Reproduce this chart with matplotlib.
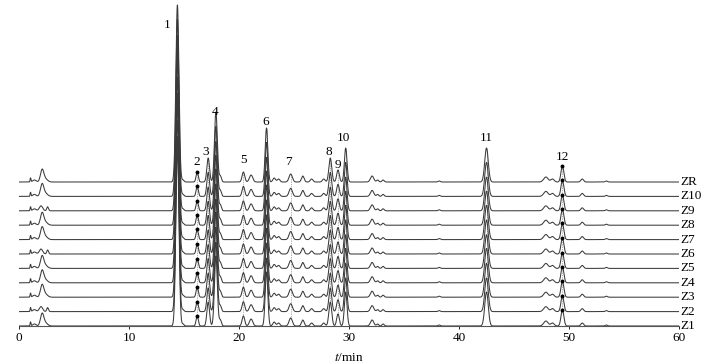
import matplotlib
matplotlib.use('Agg')
import numpy as np
import matplotlib.pyplot as plt

#----------------------------------------------------------------
# chromatogram data
#----------------------------------------------------------------
samples = ['Z1', 'Z2', 'Z3', 'Z4', 'Z5', 'Z6', 'Z7', 'Z8', 'Z9', 'Z10', 'ZR']
# scale factor for each sample
sample_scale = [1.00, 0.99, 1.00, 1.01, 0.99, 1.00, 1.01, 1.00, 0.99, 1.00, 1.00]
# samples with the low split solvent peak near 2 min
low_front = ['Z2', 'Z6', 'Z9']

# common peaks: retention time (min), height (offset units), sigma (min)
peak_t = [1.05, 1.40, 14.4, 14.9, 16.2, 17.2, 17.9, 18.3, 20.4, 21.1, 22.5, 23.2,
          23.6, 24.7, 25.8, 26.6, 27.7, 28.3, 29.0, 29.7, 32.1, 32.6, 33.1,
          38.2, 42.5, 47.9, 48.5, 49.4, 51.2, 53.4]
peak_h = [4, 2, 177, 2, 10, 24, 70, 6, 10, 7, 54, 4,
          3, 8, 6, 3, 3, 24, 12, 34, 6, 2, 2,
          1, 34, 5, 3, 16, 3, 1]
peak_w = [0.04, 0.15, 0.14, 0.10, 0.10, 0.12, 0.13, 0.10, 0.12, 0.15, 0.12, 0.12,
          0.12, 0.15, 0.12, 0.12, 0.12, 0.13, 0.12, 0.12, 0.15, 0.10, 0.10,
          0.10, 0.16, 0.20, 0.15, 0.13, 0.12, 0.10]

# solvent front peaks near 2 min
front_t = [2.1, 2.4]
front_h = [12, 3]
front_w = [0.15, 0.2]
front_low_t = [2.0, 2.6]
front_low_h = [5, 4]
front_low_w = [0.15, 0.08]

# numbered peaks: label, retention time, label position
label_txt = ['1', '2', '3', '4', '5', '6', '7', '8', '9', '10', '11', '12']
label_t = [13.5, 16.2, 17.0, 17.8, 20.45, 22.45, 24.5, 28.2, 29.0, 29.5, 42.45, 49.45]
label_y = [301, 164, 174, 214, 166, 204, 164, 174, 161, 188, 188, 169]
dot_t = [16.2, 17.2, 17.9, 20.4, 22.5, 24.7, 28.3, 29.0, 29.7, 42.5, 49.4]
marker_t = [16.2, 49.4]

offset = 14.4
t = np.linspace(0, 60, 6001)


def gauss(tt, t0, h, w):
    return h * np.exp(-0.5 * ((tt - t0) / w) ** 2)


plt.rcParams['font.family'] = ['Liberation Serif', 'DejaVu Serif']
plt.rcParams['mathtext.fontset'] = 'stix'
fig = plt.figure(figsize=(7.07, 3.64), dpi=100)
ax = fig.add_axes([19 / 707., 38 / 364., 660 / 707., 326 / 364.])

tops = {}
for i, name in enumerate(samples):
    sig = np.zeros_like(t)
    for t0, h, w in zip(peak_t, peak_h, peak_w):
        sig += gauss(t, t0, h * sample_scale[i], w)
    if name in low_front:
        for t0, h, w in zip(front_low_t, front_low_h, front_low_w):
            sig += gauss(t, t0, h, w)
    else:
        for t0, h, w in zip(front_t, front_h, front_w):
            sig += gauss(t, t0, h, w)
    y = sig + i * offset
    ax.plot(t, y, color='#3a3a3a', lw=0.75, zorder=3)
    # peak tops used for the dotted links and markers
    for td in dot_t:
        tops.setdefault(td, []).append(np.interp(td, t, y))
    ax.text(60.1, i * offset, name, fontsize=9.5, va='center', ha='left')

# dotted links between matching peaks
for td in dot_t:
    ax.plot([td] * len(tops[td]), tops[td], ls=(0, (1, 1.5)), color='#666666',
            lw=0.5, zorder=2)
for tm in marker_t:
    ax.plot([tm] * len(tops[tm]), tops[tm], 'o', color='black', ms=1.8,
            zorder=4)

for txt, tx, ty in zip(label_txt, label_t, label_y):
    ax.text(tx, ty, txt, fontsize=9.5, ha='center', va='center')

ax.set_xlim(0, 60)
ax.set_ylim(0, 326)
ax.set_xticks(range(0, 61, 10))
ax.set_yticks([])
for s in ['top', 'right', 'left']:
    ax.spines[s].set_visible(False)
ax.spines['bottom'].set_color('#555555')
ax.spines['bottom'].set_linewidth(0.8)
ax.tick_params(axis='x', length=2, width=0.6, labelsize=9.5, pad=2)
ax.set_xlabel('$\\it{t}$/min', fontsize=9.5, labelpad=6)
ax.patch.set_visible(False)

plt.savefig('out.png', dpi=100)
